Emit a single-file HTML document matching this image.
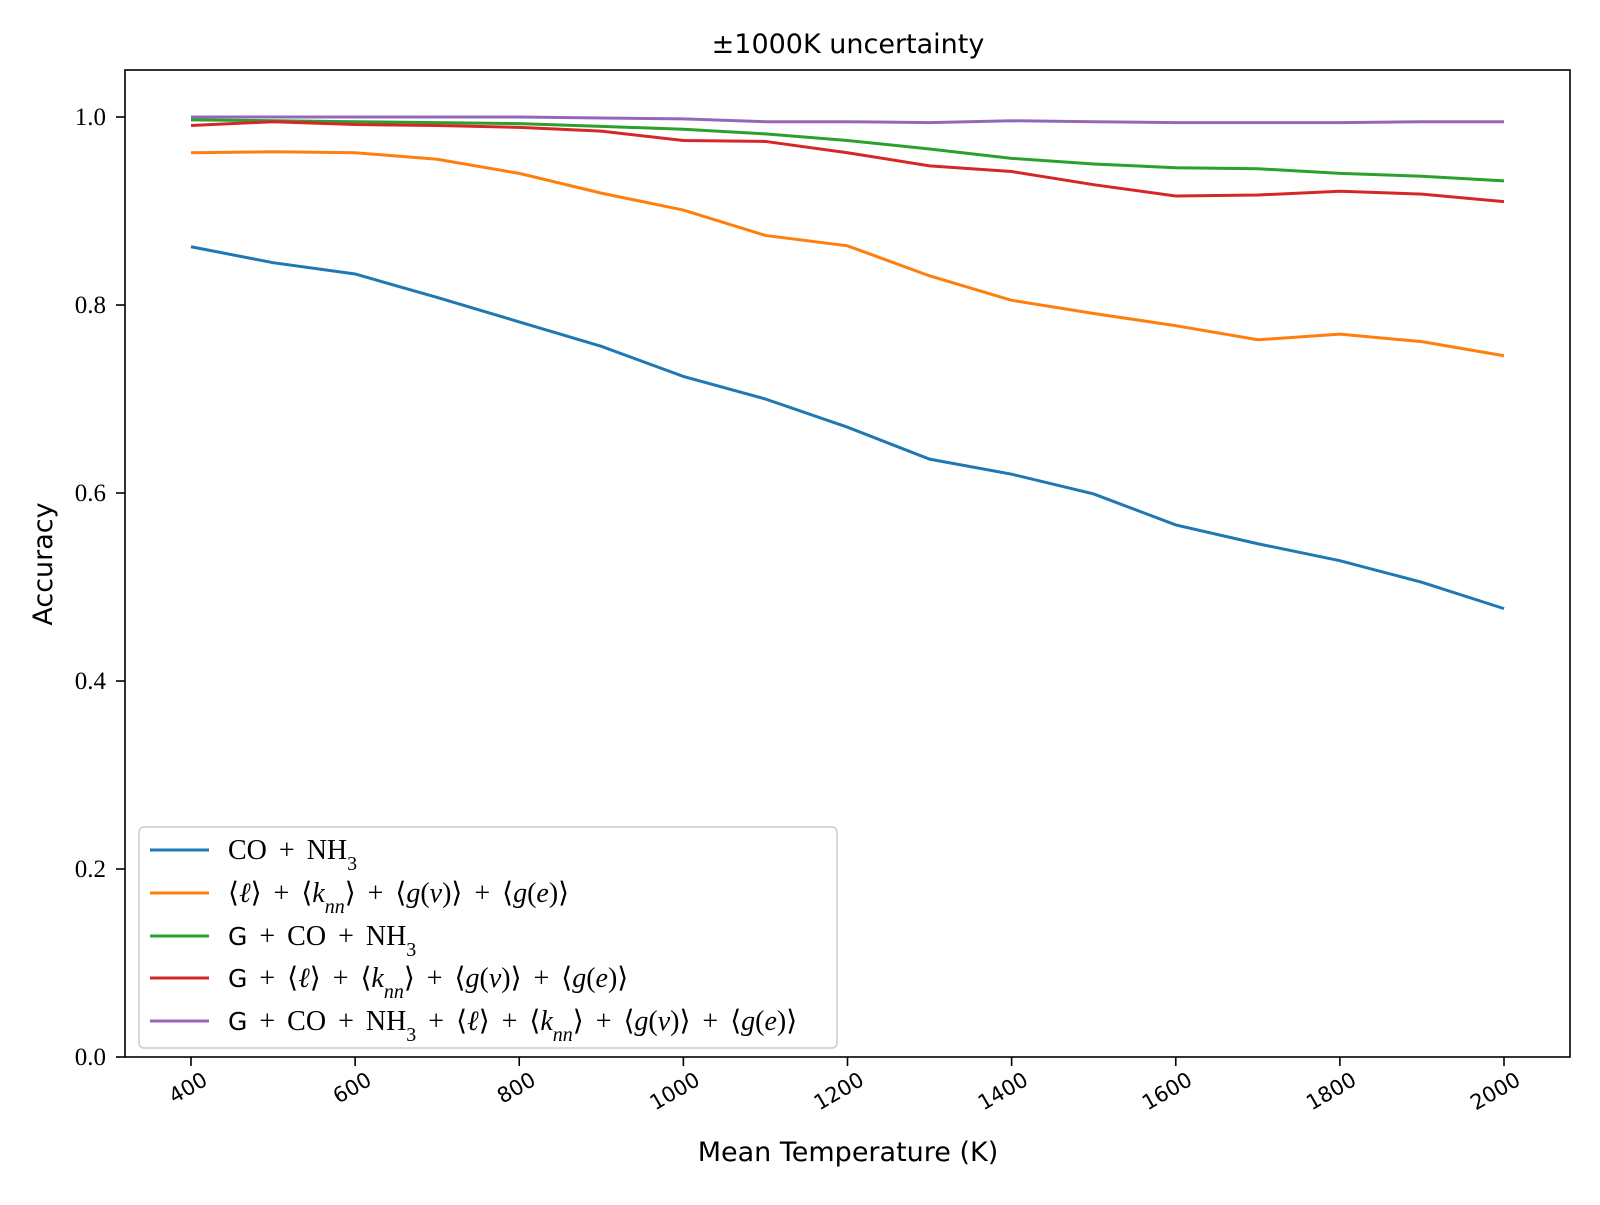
<!DOCTYPE html>
<html><head><meta charset="utf-8"><style>
body{margin:0;background:#fff}
svg text{fill:#000}
.serif{font-family:"Liberation Serif","DejaVu Serif",serif}
.sans{font-family:"DejaVu Sans","Liberation Sans",sans-serif}
</style></head><body>
<svg id="chart" width="1600" height="1200" xmlns="http://www.w3.org/2000/svg">
<rect width="1600" height="1200" fill="#fff"/>
<text class="sans" x="848" y="53" font-size="27" text-anchor="middle">±1000K uncertainty</text>
<text class="sans" x="848" y="1161" font-size="27" text-anchor="middle">Mean Temperature (K)</text>
<text class="sans" x="0" y="0" font-size="27" text-anchor="middle" transform="translate(52,564) rotate(-90)">Accuracy</text>
<g id="grid"></g>
<g id="series"></g>
<rect x="125" y="70" width="1445" height="987" fill="none" stroke="#000" stroke-width="1.6"/>
<g id="legend">
<rect x="139" y="827" width="698" height="221" rx="5" fill="#fff" fill-opacity="0.8" stroke="#ccc" stroke-width="1.5"/>
</g>
</svg>
<script>
const temps=[400,500,600,700,800,900,1000,1100,1200,1300,1400,1500,1600,1700,1800,1900,2000];
const coNh3=[.862,.845,.833,.808,.782,.756,.724,.700,.670,.636,.620,.599,.566,.546,.528,.505,.477];
const graphFeat=[.962,.963,.962,.955,.940,.919,.901,.874,.863,.831,.805,.791,.778,.763,.769,.761,.746];
const gCoNh3=[.997,.996,.995,.994,.993,.990,.987,.982,.975,.966,.956,.950,.946,.945,.940,.937,.932];
const gGraph=[.991,.995,.992,.991,.989,.985,.975,.974,.962,.948,.942,.928,.916,.917,.921,.918,.910];
const gAll=[1.0,1.0,1.0,1.0,1.0,.999,.998,.995,.995,.994,.996,.995,.994,.994,.994,.995,.995];
const xTicks=[400,600,800,1000,1200,1400,1600,1800,2000];
const yTicks=[0.0,0.2,0.4,0.6,0.8,1.0];
const S="<tspan baseline-shift='sub' font-size='20'>";
const P=" + ";
const labels=["CO"+P+"NH"+S+"3</tspan>",
"⟨<tspan font-style='italic'>ℓ</tspan>⟩"+P+"⟨<tspan font-style='italic'>k"+S+"nn</tspan></tspan>⟩"+P+"⟨<tspan font-style='italic'>g</tspan>(<tspan font-style='italic'>v</tspan>)⟩"+P+"⟨<tspan font-style='italic'>g</tspan>(<tspan font-style='italic'>e</tspan>)⟩",
"<tspan font-family='DejaVu Sans' font-size='25'>G</tspan>"+P+"CO"+P+"NH"+S+"3</tspan>",
"<tspan font-family='DejaVu Sans' font-size='25'>G</tspan>"+P+"⟨<tspan font-style='italic'>ℓ</tspan>⟩"+P+"⟨<tspan font-style='italic'>k"+S+"nn</tspan></tspan>⟩"+P+"⟨<tspan font-style='italic'>g</tspan>(<tspan font-style='italic'>v</tspan>)⟩"+P+"⟨<tspan font-style='italic'>g</tspan>(<tspan font-style='italic'>e</tspan>)⟩",
"<tspan font-family='DejaVu Sans' font-size='25'>G</tspan>"+P+"CO"+P+"NH"+S+"3</tspan>"+P+"⟨<tspan font-style='italic'>ℓ</tspan>⟩"+P+"⟨<tspan font-style='italic'>k"+S+"nn</tspan></tspan>⟩"+P+"⟨<tspan font-style='italic'>g</tspan>(<tspan font-style='italic'>v</tspan>)⟩"+P+"⟨<tspan font-style='italic'>g</tspan>(<tspan font-style='italic'>e</tspan>)⟩"];
const NS="http://www.w3.org/2000/svg";
const sx=v=>191+(v-400)*(1504-191)/1600;
const sy=v=>1057-v*940;
const grid=document.getElementById('grid');
xTicks.forEach(t=>{
 const l=document.createElementNS(NS,'line');
 
 
 l.setAttribute('x1',sx(t));l.setAttribute('x2',sx(t));l.setAttribute('y1',1057);l.setAttribute('y2',1066);l.setAttribute('stroke','#000');l.setAttribute('stroke-width','1.6');
 grid.appendChild(l);
 const tx=document.createElementNS(NS,'text');
 
 
 tx.setAttribute('class','sans');tx.setAttribute('font-size','21');tx.setAttribute('text-anchor','end');
 tx.setAttribute('transform',`translate(${sx(t)+18},${1084}) rotate(-30)`);
 tx.textContent=t;grid.appendChild(tx);
});
yTicks.forEach(t=>{
 const l=document.createElementNS(NS,'line');
 
 
 l.setAttribute('x1',116);l.setAttribute('x2',125);l.setAttribute('y1',sy(t));l.setAttribute('y2',sy(t));l.setAttribute('stroke','#000');l.setAttribute('stroke-width','1.6');
 grid.appendChild(l);
 const tx=document.createElementNS(NS,'text');
 
 
 tx.setAttribute('class','serif');tx.setAttribute('font-size','25');tx.setAttribute('text-anchor','end');
 tx.setAttribute('x',106);tx.setAttribute('y',sy(t)+8);
 tx.textContent=t.toFixed(1);grid.appendChild(tx);
});
const series=[coNh3,graphFeat,gCoNh3,gGraph,gAll];
const colors=['#1f77b4','#ff7f0e','#2ca02c','#d62728','#9467bd'];
const names=['line-co-nh3','line-graph-features','line-g-co-nh3','line-g-graph-features','line-g-all'];
const sg=document.getElementById('series');
series.forEach((s,i)=>{
 const p=document.createElementNS(NS,'polyline');
 
 
 p.setAttribute('points',s.map((v,j)=>sx(temps[j])+','+sy(v)).join(' '));
 p.setAttribute('fill','none');p.setAttribute('stroke',colors[i]);p.setAttribute('stroke-width','3');
 sg.appendChild(p);
});
const lg=document.getElementById('legend');
const rows=[850,893,936,978,1021];
labels.forEach((lab,i)=>{
 const l=document.createElementNS(NS,'line');
 
 
 l.setAttribute('x1',150);l.setAttribute('x2',209);l.setAttribute('y1',rows[i]);l.setAttribute('y2',rows[i]);
 l.setAttribute('stroke',colors[i]);l.setAttribute('stroke-width','3');
 lg.appendChild(l);
 const tx=document.createElementNS(NS,'text');
 
 
 tx.setAttribute('class','serif');tx.setAttribute('font-size','28');
 tx.setAttribute('word-spacing','5');
 tx.setAttribute('x',228);tx.setAttribute('y',rows[i]+9);
 tx.innerHTML=lab;lg.appendChild(tx);
});
</script>
</body></html>
